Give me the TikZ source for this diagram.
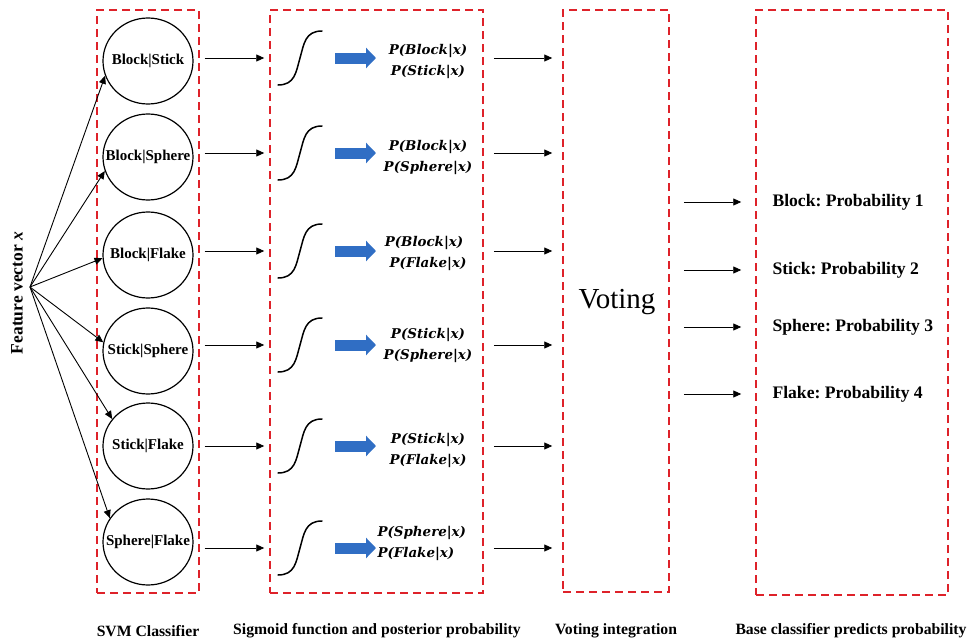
\documentclass[tikz,border=0pt]{standalone}
\usepackage{fontspec}
\setmainfont{Liberation Serif}
\newfontfamily\probfont{DejaVu Serif}
\usepackage{amsmath,amssymb}
\usepackage{xcolor}
\definecolor{Col1}{RGB}{222,34,42}
\definecolor{Col2}{RGB}{48,110,196}
\usepackage{tikz}
\usetikzlibrary{shapes.geometric}
\usetikzlibrary{arrows.meta}
\frenchspacing
\tikzstyle{Box}=[draw=Col1,line width=1.5pt,dash pattern=on 8pt off 5pt,
inner sep=0pt]
\tikzstyle{Node}=[ellipse,draw,line width=1.2pt,minimum width=90pt,
minimum height=86pt,inner sep=0pt,font=\bfseries\fontsize{15}{17}\selectfont]
\tikzstyle{Edge}=[draw,line width=0.9pt,-{Triangle[length=8pt,width=7pt]}]
\tikzstyle{Blue}=[draw=Col2,line width=11pt,
-{Triangle[length=10pt,width=20pt]}]
\tikzstyle{Sig}=[line width=1.5pt,line cap=round]
\tikzstyle{Prob}=[font=\probfont\bfseries\itshape\fontsize{13.4}{21}\selectfont,
align=center]
\tikzstyle{Out}=[anchor=west,font=\bfseries\fontsize{17.6}{19}\selectfont]
\tikzstyle{Title}=[font=\bfseries\fontsize{15.7}{18}\selectfont]
\newcommand{\Sigmoid}[1]{\draw[Sig] (#1) ++(-22,27)
    .. controls +(17,0) and +(-4,14) .. ++(22,-27)
    .. controls +(4,-14) and +(-17,0) .. ++(22,-27);}
\newcommand{\Pair}[1]{\makebox[0pt]{#1}}

\begin{document}
\begin{tikzpicture}[x=1pt,y=-1pt]
        \useasboundingbox (0,0) rectangle (970,640);
        % frames
        \node[Box,minimum width=102pt,minimum height=583pt](svm)at(148,301.5){};
        \node[Box,minimum width=213pt,minimum height=583pt](sig)at(376.5,301.5){};
        \node[Box,minimum width=106pt,minimum height=582pt](vote)at(616,301){};
        \node[Box,minimum width=192pt,minimum height=585pt](base)at(852,302.5){};
        % input
        \node[rotate=90,font=\bfseries\fontsize{17.5}{19}\selectfont](fv)
            at(17,293){Feature vector \textit{x}};
        \coordinate(o)at(30,287);
        % binary svm classifiers
        \node[Node](c1)at(148,61){\Pair{Block|Stick}};
        \node[Node](c2)at(148,157){\Pair{Block|Sphere}};
        \node[Node](c3)at(148,255){\Pair{Block|Flake}};
        \node[Node](c4)at(148,351){\Pair{Stick|Sphere}};
        \node[Node](c5)at(148,446){\Pair{Stick|Flake}};
        \node[Node](c6)at(148,542){\Pair{Sphere|Flake}};
        \draw[Edge](o)--(c1.199);
        \draw[Edge](o)--(c2.198);
        \draw[Edge](o)--(c3.184);
        \draw[Edge](o)--(c4.169);
        \draw[Edge](o)--(c5.143);
        \draw[Edge](o)--(c6.148);
        % sigmoids
        \coordinate(g1)at(300,58);
        \coordinate(g2)at(300,153);
        \coordinate(g3)at(300,251);
        \coordinate(g4)at(300,345);
        \coordinate(g5)at(300,446);
        \coordinate(g6)at(300,548);
        \Sigmoid{g1}
        \Sigmoid{g2}
        \Sigmoid{g3}
        \Sigmoid{g4}
        \Sigmoid{g5}
        \Sigmoid{g6}
        \draw[Edge,shorten <=11pt,shorten >=5pt](c1.east|-g1)--(sig.west|-g1);
        \draw[Edge,shorten <=11pt,shorten >=5pt](c2.east|-g2)--(sig.west|-g2);
        \draw[Edge,shorten <=11pt,shorten >=5pt](c3.east|-g3)--(sig.west|-g3);
        \draw[Edge,shorten <=11pt,shorten >=5pt](c4.east|-g4)--(sig.west|-g4);
        \draw[Edge,shorten <=11pt,shorten >=5pt](c5.east|-g5)--(sig.west|-g5);
        \draw[Edge,shorten <=11pt,shorten >=5pt](c6.east|-g6)--(sig.west|-g6);
        % posterior probabilities
        \node[Prob](p1)at(428,61){P(Block|x)\\P(Stick|x)};
        \node[Prob](p2)at(428,157){P(Block|x)\\P(Sphere|x)};
        \node[Prob](p3)at(424,253){P(Block|x)\\\hspace*{8pt}P(Flake|x)};
        \node[Prob](p4)at(428,345){P(Stick|x)\\P(Sphere|x)};
        \node[Prob](p5)at(428,450){P(Stick|x)\\P(Flake|x)};
        \node[Prob,align=left,anchor=west](p6)at(374,543)
            {P(Sphere|x)\\P(Flake|x)};
        \draw[Blue]([xshift=35pt]g1)--([xshift=76pt]g1);
        \draw[Blue]([xshift=35pt]g2)--([xshift=76pt]g2);
        \draw[Blue]([xshift=35pt]g3)--([xshift=76pt]g3);
        \draw[Blue]([xshift=35pt]g4)--([xshift=76pt]g4);
        \draw[Blue]([xshift=35pt]g5)--([xshift=76pt]g5);
        \draw[Blue]([xshift=35pt]g6)--([xshift=76pt]g6);
        \draw[Edge,shorten <=10pt,shorten >=10pt](sig.east|-g1)--(vote.west|-g1);
        \draw[Edge,shorten <=10pt,shorten >=10pt](sig.east|-g2)--(vote.west|-g2);
        \draw[Edge,shorten <=10pt,shorten >=10pt](sig.east|-g3)--(vote.west|-g3);
        \draw[Edge,shorten <=10pt,shorten >=10pt](sig.east|-g4)--(vote.west|-g4);
        \draw[Edge,shorten <=10pt,shorten >=10pt](sig.east|-g5)--(vote.west|-g5);
        \draw[Edge,shorten <=10pt,shorten >=10pt](sig.east|-g6)--(vote.west|-g6);
        % voting and result
        \node[font=\fontsize{29}{31}\selectfont](v)at(617,302){Voting};
        \node[Out](r1)at(769,202){Block: Probability 1};
        \node[Out](r2)at(769,270){Stick: Probability 2};
        \node[Out](r3)at(769,327){Sphere: Probability 3};
        \node[Out](r4)at(769,394){Flake: Probability 4};
        \draw[Edge,shorten <=14pt,shorten >=14pt](vote.east|-r1)--(base.west|-r1);
        \draw[Edge,shorten <=14pt,shorten >=14pt](vote.east|-r2)--(base.west|-r2);
        \draw[Edge,shorten <=14pt,shorten >=14pt](vote.east|-r3)--(base.west|-r3);
        \draw[Edge,shorten <=14pt,shorten >=14pt](vote.east|-r4)--(base.west|-r4);
        % captions
        \node[Title](t1)at(148,631){SVM Classifier};
        \node[Title](t2)at(377,631){Sigmoid function and posterior probability};
        \node[Title](t3)at(616,631){Voting integration};
        \node[Title](t4)at(851,631){Base classifier predicts probability};
    \end{tikzpicture}
\end{document}
